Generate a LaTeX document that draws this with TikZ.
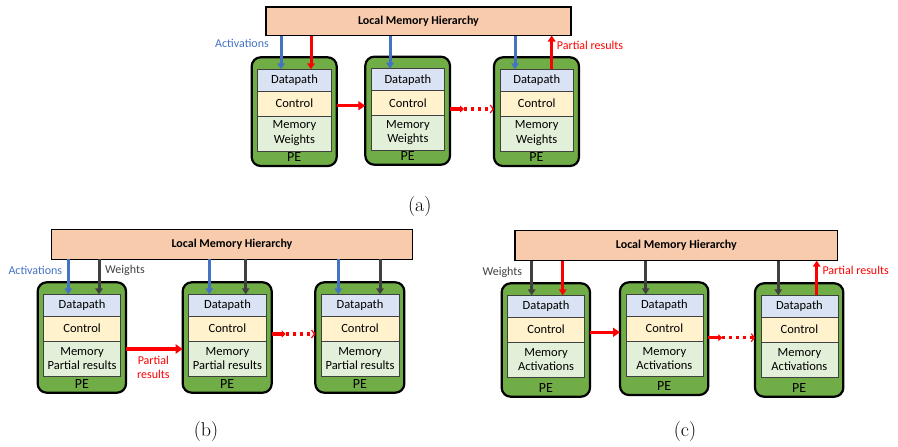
\documentclass[tikz,border=0pt]{standalone}
\usepackage{fontspec}
\setsansfont{Carlito}
\usetikzlibrary{arrows.meta}

\definecolor{peach}{HTML}{F8CBAD}
\definecolor{pegreen}{HTML}{70AD47}
\definecolor{dpblue}{HTML}{DAE3F3}
\definecolor{ctlyellow}{HTML}{FFF2CC}
\definecolor{memgreen}{HTML}{E2F0D9}
\definecolor{actblue}{HTML}{4472C4}
\definecolor{wgray}{HTML}{404040}
\definecolor{psred}{HTML}{FF0000}

\tikzset{
  x=1pt, y=-1pt,
  txt/.style={font=\sffamily\fontsize{12}{14}\selectfont},
  lbl/.style={txt, inner sep=0},
  membar/.style={draw=black, line width=1.5pt, fill=peach, anchor=north west,
    inner sep=0, outer sep=0, font=\sffamily\bfseries\fontsize{12}{14}\selectfont},
  pebox/.style={draw=black, line width=2.2pt, fill=pegreen, rounded corners=9pt,
    anchor=north west, inner sep=0, outer sep=0},
  sect/.style={font=\sffamily\fontsize{12.5}{14.5}\selectfont, draw=black!75,
    line width=0.6pt, anchor=north west, inner sep=0, outer sep=0, align=center},
  pelbl/.style={font=\sffamily\fontsize{14}{16}\selectfont, inner sep=0},
  vtip/.style={-{Triangle[length=6pt,width=7.5pt]}},
  actarrow/.style={actblue, line width=3pt, vtip},
  wtarrow/.style={wgray, line width=3pt, vtip},
  psarrow/.style={psred, line width=3pt, vtip},
  harrow/.style={psred, line width=3.5pt, -{Triangle[length=7pt,width=9pt]}},
  hsolid/.style={psred, line width=3.5pt, -{Triangle[length=4pt,width=7pt]}},
  hdots/.style={psred, line width=3.5pt, dash pattern=on 3pt off 4pt,
    -{Straight Barb[length=3pt,width=8pt,line width=1.2pt]}},
  caption/.style={font=\fontsize{20}{24}\selectfont, inner sep=0},
}

% processing element: name, left, top, right, bottom, second memory line
\newcommand\pe[6]{%
  \node[pebox, minimum width={(#4-#2)*1pt}, minimum height={(#5-#3)*1pt}] (#1) at (#2,#3) {};
  \node[sect, fill=dpblue, minimum width={(#4-#2-11.5)*1pt}, minimum height=22pt]
    (#1-dp) at (#2+6,#3+12) {Datapath};
  \node[sect, fill=ctlyellow, minimum width={(#4-#2-11.5)*1pt}, minimum height=24.5pt]
    (#1-ct) at (#1-dp.south west) {Control};
  \node[sect, fill=memgreen, minimum width={(#4-#2-11.5)*1pt}, minimum height=35pt]
    (#1-mem) at (#1-ct.south west) {Memory\\#6};
  \node[pelbl] (#1-lbl) at ({(#2+#4)/2},#5-9) {PE};
}

\begin{document}
\begin{tikzpicture}
\useasboundingbox (0,0) rectangle (898,447);

% ---------------- (a) weight stationary ----------------
\node[membar, minimum width=305pt, minimum height=28.5pt] (barA) at (266,7) {Local Memory Hierarchy};
\pe{pa1}{251.7}{57.3}{336.7}{166}{Weights}
\pe{pa2}{365.3}{56.7}{450}{164.7}{Weights}
\pe{pa3}{494}{57.3}{579}{166}{Weights}

\coordinate (xa1) at (281,0);
\coordinate (xa2) at (311,0);
\coordinate (xa3) at (390,0);
\coordinate (xa4) at (515,0);
\coordinate (xa5) at (551.7,0);
\draw[actarrow] (barA.south -| xa1) -- (pa1-dp.north -| xa1);
\draw[psarrow]  (barA.south -| xa2) -- (pa1-dp.north -| xa2);
\draw[actarrow] (barA.south -| xa3) -- (pa2-dp.north -| xa3);
\draw[actarrow] (barA.south -| xa4) -- (pa3-dp.north -| xa4);
\draw[psarrow]  (pa3-dp.north -| xa5) -- (barA.south -| xa5);

\coordinate (ya1) at (0,105.7);
\coordinate (ya2) at (0,109);
\draw[harrow] (pa1.east |- ya1) -- (pa2.west |- ya1);
\draw[hsolid] (pa2.east |- ya2) -- ++(14,0) coordinate (da);
\draw[hdots] (da) -- (pa3.west |- ya2);

\node[lbl, text=actblue, anchor=east] (actA) at (269,43) {Activations};
\node[lbl, text=psred, anchor=west] (psA) at (556.7,45) {Partial results};
\node[caption] (capA) at (419.7,207) {(a)};

% ---------------- (b) output stationary ----------------
\node[membar, minimum width=360.6pt, minimum height=29.6pt] (barB) at (51.7,229.7) {Local Memory Hierarchy};
\pe{pb1}{37.7}{282.3}{126}{392.7}{Partial results}
\pe{pb2}{182.7}{282.3}{271.7}{392.7}{Partial results}
\pe{pb3}{315.3}{282.3}{404.3}{392.7}{Partial results}

\coordinate (xb1) at (68.3,0);
\coordinate (xb2) at (99,0);
\coordinate (xb3) at (209.3,0);
\coordinate (xb4) at (245.7,0);
\coordinate (xb5) at (338.3,0);
\coordinate (xb6) at (380,0);
\draw[actarrow] (barB.south -| xb1) -- (pb1-dp.north -| xb1);
\draw[wtarrow]  (barB.south -| xb2) -- (pb1-dp.north -| xb2);
\draw[actarrow] (barB.south -| xb3) -- (pb2-dp.north -| xb3);
\draw[wtarrow]  (barB.south -| xb4) -- (pb2-dp.north -| xb4);
\draw[actarrow] (barB.south -| xb5) -- (pb3-dp.north -| xb5);
\draw[wtarrow]  (barB.south -| xb6) -- (pb3-dp.north -| xb6);

\coordinate (yb1) at (0,349);
\coordinate (yb2) at (0,334);
\draw[harrow] (pb1.east |- yb1) -- (pb2.west |- yb1);
\draw[hsolid] (pb2.east |- yb2) -- ++(14,0) coordinate (db);
\draw[hdots] (db) -- (pb3.west |- yb2);

\node[lbl, text=actblue, anchor=east] (actB) at (62.3,270) {Activations};
\node[lbl, text=wgray, anchor=west] (wtB) at (105,270) {Weights};
\node[lbl, text=psred, align=center] (psB) at (153.3,367.5) {Partial\\results};
\node[caption] (capB) at (206,431.7) {(b)};

% ---------------- (c) input stationary ----------------
\node[membar, minimum width=322.7pt, minimum height=30pt] (barC) at (515,230.7) {Local Memory Hierarchy};
\pe{pc1}{501.7}{283.3}{590}{396.7}{Activations}
\pe{pc2}{620}{282.3}{708.3}{395}{Activations}
\pe{pc3}{755}{283.3}{843.3}{396.7}{Activations}

\coordinate (xc1) at (531.7,0);
\coordinate (xc2) at (562.7,0);
\coordinate (xc3) at (645.7,0);
\coordinate (xc4) at (778.3,0);
\coordinate (xc5) at (816.7,0);
\draw[wtarrow] (barC.south -| xc1) -- (pc1-dp.north -| xc1);
\draw[psarrow] (barC.south -| xc2) -- (pc1-dp.north -| xc2);
\draw[wtarrow] (barC.south -| xc3) -- (pc2-dp.north -| xc3);
\draw[wtarrow] (barC.south -| xc4) -- (pc3-dp.north -| xc4);
\draw[psarrow] (pc3-dp.north -| xc5) -- (barC.south -| xc5);

\coordinate (yc1) at (0,332.3);
\coordinate (yc2) at (0,337.7);
\draw[harrow] (pc1.east |- yc1) -- (pc2.west |- yc1);
\draw[hsolid] (pc2.east |- yc2) -- ++(14,0) coordinate (dc);
\draw[hdots] (dc) -- (pc3.west |- yc2);

\node[lbl, text=wgray, anchor=east] (wtC) at (522.3,272.3) {Weights};
\node[lbl, text=psred, anchor=west] (psC) at (822.3,270) {Partial results};
\node[caption] (capC) at (685,431.7) {(c)};
\end{tikzpicture}
\end{document}
